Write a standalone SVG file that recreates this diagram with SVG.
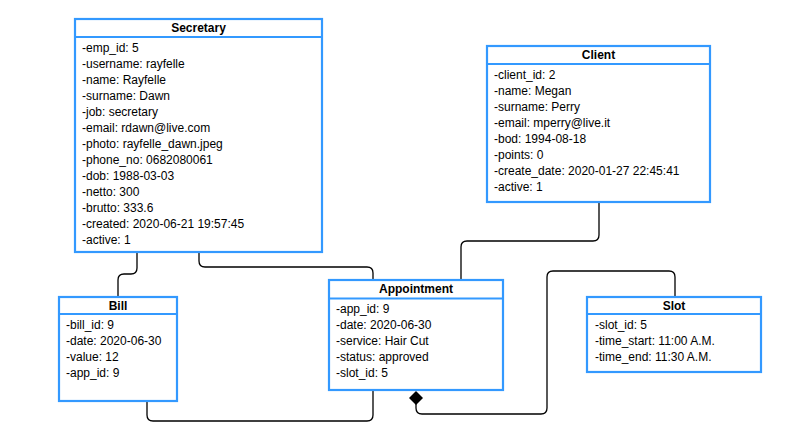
<svg xmlns="http://www.w3.org/2000/svg" width="803" height="437" viewBox="0 0 803 437">
<style>
.box{fill:#fff;stroke:#3399ff;stroke-width:2.2}
.sep{stroke:#3399ff;stroke-width:2.2}
.t{font-family:"Liberation Sans",Arial,sans-serif;font-size:12px;fill:#000}
.h{font-family:"Liberation Sans",Arial,sans-serif;font-size:12px;font-weight:bold;fill:#000;text-anchor:middle}
.c{fill:none;stroke:#000;stroke-width:1.3}
</style>
<rect width="803" height="437" fill="#fff"/>
<g id="connectors">
<path class="c" d="M137,252 V268 Q137,274 131,274 H124 Q118,274 118,280 V297"/>
<path class="c" d="M199,252 V261 Q199,267 205,267 H367 Q373,267 373,273 V280"/>
<path class="c" d="M599,202 V235 Q599,241 593,241 H467 Q461,241 461,247 V280"/>
<path class="c" d="M675,297 V277 Q675,271 669,271 H553 Q547,271 547,277 V408 Q547,414 541,414 H422 Q416,414 416,408 V404"/>
<path class="c" d="M147,401 V415 Q147,421 153,421 H367 Q373,421 373,415 V390"/>
<polygon points="416,391 423,398 416,405 409,398" fill="#000"/>
</g>
<g id="secretary">
<rect class="box" x="75" y="19" width="247" height="233"/>
<line class="sep" x1="75" y1="37" x2="322" y2="37"/>
<text class="h" x="198.5" y="32">Secretary</text>
<text class="t" x="82" y="51.5">-emp_id: 5</text>
<text class="t" x="82" y="67.5">-username: rayfelle</text>
<text class="t" x="82" y="83.5">-name: Rayfelle</text>
<text class="t" x="82" y="99.5">-surname: Dawn</text>
<text class="t" x="82" y="115.5">-job: secretary</text>
<text class="t" x="82" y="131.5">-email: rdawn@live.com</text>
<text class="t" x="82" y="147.5">-photo: rayfelle_dawn.jpeg</text>
<text class="t" x="82" y="163.5">-phone_no: 0682080061</text>
<text class="t" x="82" y="179.5">-dob: 1988-03-03</text>
<text class="t" x="82" y="195.5">-netto: 300</text>
<text class="t" x="82" y="211.5">-brutto: 333.6</text>
<text class="t" x="82" y="227.5">-created: 2020-06-21 19:57:45</text>
<text class="t" x="82" y="243.5">-active: 1</text>
</g>
<g id="client">
<rect class="box" x="487" y="46" width="223" height="156"/>
<line class="sep" x1="487" y1="64" x2="710" y2="64"/>
<text class="h" x="598.5" y="59.3">Client</text>
<text class="t" x="494" y="78.5">-client_id: 2</text>
<text class="t" x="494" y="94.5">-name: Megan</text>
<text class="t" x="494" y="110.5">-surname: Perry</text>
<text class="t" x="494" y="126.5">-email: mperry@live.it</text>
<text class="t" x="494" y="142.5">-bod: 1994-08-18</text>
<text class="t" x="494" y="158.5">-points: 0</text>
<text class="t" x="494" y="174.5">-create_date: 2020-01-27 22:45:41</text>
<text class="t" x="494" y="190.5">-active: 1</text>
</g>
<g id="bill">
<rect class="box" x="59" y="297" width="118" height="104"/>
<line class="sep" x1="59" y1="314" x2="177" y2="314"/>
<text class="h" x="118" y="310">Bill</text>
<text class="t" x="66" y="329.3">-bill_id: 9</text>
<text class="t" x="66" y="345.3">-date: 2020-06-30</text>
<text class="t" x="66" y="361.3">-value: 12</text>
<text class="t" x="66" y="377.3">-app_id: 9</text>
</g>
<g id="appointment">
<rect class="box" x="329" y="280" width="174" height="110"/>
<line class="sep" x1="329" y1="298.5" x2="503" y2="298.5"/>
<text class="h" x="416" y="292.6">Appointment</text>
<text class="t" x="336" y="312.6">-app_id: 9</text>
<text class="t" x="336" y="328.6">-date: 2020-06-30</text>
<text class="t" x="336" y="344.6">-service: Hair Cut</text>
<text class="t" x="336" y="360.6">-status: approved</text>
<text class="t" x="336" y="376.6">-slot_id: 5</text>
</g>
<g id="slot">
<rect class="box" x="587" y="297" width="174" height="75"/>
<line class="sep" x1="587" y1="314" x2="761" y2="314"/>
<text class="h" x="674" y="310.3">Slot</text>
<text class="t" x="595" y="329.3">-slot_id: 5</text>
<text class="t" x="595" y="345.3">-time_start: 11:00 A.M.</text>
<text class="t" x="595" y="361.3">-time_end: 11:30 A.M.</text>
</g>
</svg>
